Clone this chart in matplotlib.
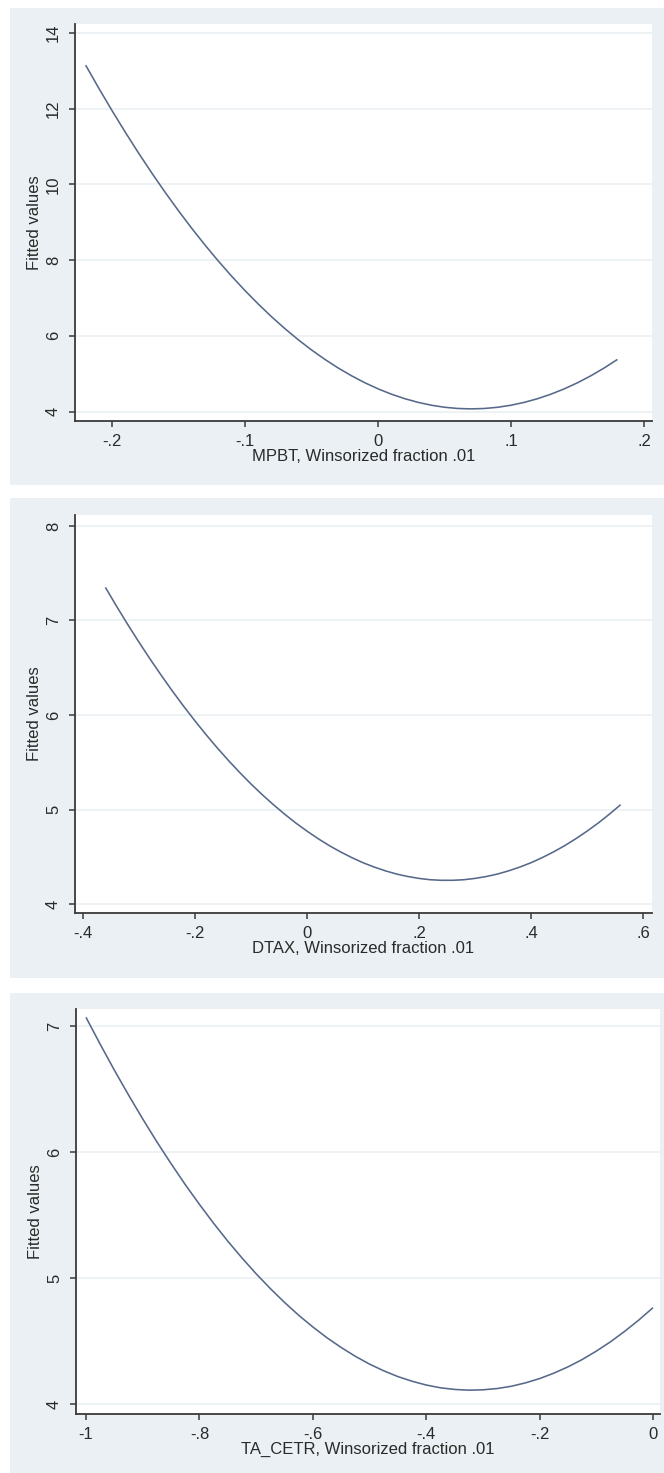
import matplotlib
matplotlib.use("Agg")
import matplotlib.pyplot as plt

plt.rcParams['font.family'] = ['Liberation Sans', 'DejaVu Sans']

# ---------------- data ----------------
mpbt_x = [-0.22, -0.21, -0.20, -0.19, -0.18, -0.17, -0.16, -0.15, -0.14, -0.13, -0.12,
          -0.11, -0.10, -0.09, -0.08, -0.07, -0.06, -0.05, -0.04, -0.03, -0.02, -0.01,
          0.00, 0.01, 0.02, 0.03, 0.04, 0.05, 0.06, 0.07, 0.08, 0.09, 0.10, 0.11,
          0.12, 0.13, 0.14, 0.15, 0.16, 0.17, 0.18]
mpbt_y = [13.153, 12.537, 11.943, 11.371, 10.820, 10.291, 9.783, 9.297, 8.833, 8.390, 7.969,
          7.569, 7.191, 6.835, 6.500, 6.187, 5.895, 5.625, 5.377, 5.150, 4.945, 4.761,
          4.599, 4.459, 4.340, 4.243, 4.167, 4.113, 4.081, 4.070, 4.081, 4.113, 4.167, 4.243,
          4.340, 4.459, 4.599, 4.761, 4.945, 5.150, 5.377]

dtax_x = [-0.36, -0.34, -0.32, -0.30, -0.28, -0.26, -0.24, -0.22, -0.20, -0.18, -0.16,
          -0.14, -0.12, -0.10, -0.08, -0.06, -0.04, -0.02, 0.00, 0.02, 0.04, 0.06,
          0.08, 0.10, 0.12, 0.14, 0.16, 0.18, 0.20, 0.22, 0.24, 0.26, 0.28, 0.30,
          0.32, 0.34, 0.36, 0.38, 0.40, 0.42, 0.44, 0.46, 0.48, 0.50, 0.52, 0.54, 0.56]
dtax_y = [7.350, 7.150, 6.956, 6.770, 6.590, 6.417, 6.250, 6.090, 5.937, 5.790, 5.650,
          5.517, 5.390, 5.270, 5.157, 5.051, 4.951, 4.857, 4.771, 4.691, 4.617, 4.551,
          4.491, 4.437, 4.391, 4.351, 4.317, 4.291, 4.271, 4.257, 4.251, 4.251, 4.257, 4.271,
          4.291, 4.317, 4.351, 4.391, 4.437, 4.491, 4.551, 4.617, 4.691, 4.771, 4.857, 4.951,
          5.051]

cetr_x = [-1.000, -0.975, -0.950, -0.925, -0.900, -0.875, -0.850, -0.825, -0.800, -0.775,
          -0.750, -0.725, -0.700, -0.675, -0.650, -0.625, -0.600, -0.575, -0.550, -0.525,
          -0.500, -0.475, -0.450, -0.425, -0.400, -0.375, -0.350, -0.325, -0.300, -0.275,
          -0.250, -0.225, -0.200, -0.175, -0.150, -0.125, -0.100, -0.075, -0.050, -0.025,
          0.000]
cetr_y = [7.069, 6.856, 6.650, 6.453, 6.263, 6.081, 5.908, 5.742, 5.585, 5.435,
          5.293, 5.160, 5.034, 4.917, 4.807, 4.705, 4.612, 4.526, 4.449, 4.379,
          4.317, 4.264, 4.218, 4.181, 4.151, 4.129, 4.116, 4.110, 4.113, 4.123,
          4.141, 4.168, 4.202, 4.245, 4.295, 4.353, 4.420, 4.494, 4.577, 4.667,
          4.765]

x_titles = ["MPBT, Winsorized fraction .01",
            "DTAX, Winsorized fraction .01",
            "TA_CETR, Winsorized fraction .01"]
y_title = "Fitted values"

p1_xticks = [-0.2, -0.1, 0.0, 0.1, 0.2]
p1_xticklabels = ["-.2", "-.1", "0", ".1", ".2"]
p1_yticks = [4, 6, 8, 10, 12, 14]

p2_xticks = [-0.4, -0.2, 0.0, 0.2, 0.4, 0.6]
p2_xticklabels = ["-.4", "-.2", "0", ".2", ".4", ".6"]
p2_yticks = [4, 5, 6, 7, 8]

p3_xticks = [-1.0, -0.8, -0.6, -0.4, -0.2, 0.0]
p3_xticklabels = ["-1", "-.8", "-.6", "-.4", "-.2", "0"]
p3_yticks = [4, 5, 6, 7]

# ---------------- layout ----------------
W, H = 664, 1473
DPI = 100
fig = plt.figure(figsize=(W / DPI, H / DPI), dpi=DPI)
fig.patch.set_facecolor("white")

BG = "#EAF0F3"
LINE = "#56698a"
AX = "#3a3a3a"
TXT = "#2a2a2a"

def px_rect(x0, y0, x1, y1):
    return [x0 / W, 1 - y1 / H, (x1 - x0) / W, (y1 - y0) / H]

panels = [
    dict(bg=(10, 8, 664, 485), ax=(75, 24, 652, 421),
         xlim=(-0.228, 0.206), ylim=(3.75, 14.24),
         x=mpbt_x, y=mpbt_y, xt=p1_xticks, xtl=p1_xticklabels, yt=p1_yticks),
    dict(bg=(10, 498, 664, 978), ax=(75, 515, 652, 913),
         xlim=(-0.4143, 0.616), ylim=(3.905, 8.116),
         x=dtax_x, y=dtax_y, xt=p2_xticks, xtl=p2_xticklabels, yt=p2_yticks),
    dict(bg=(10, 993, 664, 1473), ax=(76, 1009, 660, 1414),
         xlim=(-1.0176, 0.0123), ylim=(3.921, 7.135),
         x=cetr_x, y=cetr_y, xt=p3_xticks, xtl=p3_xticklabels, yt=p3_yticks),
]

FS = 12

for i, p in enumerate(panels):
    bgax = fig.add_axes(px_rect(*p["bg"]), zorder=0)
    bgax.set_facecolor(BG)
    bgax.set_xticks([])
    bgax.set_yticks([])
    for s in bgax.spines.values():
        s.set_visible(False)

    ax = fig.add_axes(px_rect(*p["ax"]), zorder=2)
    ax.set_facecolor("white")
    ax.set_xlim(*p["xlim"])
    ax.set_ylim(*p["ylim"])
    for yv in p["yt"]:
        ax.axhline(yv, color=BG, lw=1.2, zorder=1)
    ax.plot(p["x"], p["y"], color=LINE, lw=1.15, zorder=3,
            solid_capstyle="butt", solid_joinstyle="round")
    for s in ["top", "right"]:
        ax.spines[s].set_visible(False)
    for s in ["left", "bottom"]:
        ax.spines[s].set_color(AX)
        ax.spines[s].set_linewidth(1.3)
    ax.set_xticks(p["xt"])
    ax.set_xticklabels(p["xtl"])
    ax.set_yticks(p["yt"])
    ax.set_yticklabels([str(v) for v in p["yt"]], rotation=90, va="center", ha="center")
    ax.tick_params(axis="both", direction="out", length=4.5, width=1.1, color=AX,
                   labelsize=FS, labelcolor=TXT)
    ax.tick_params(axis="x", pad=5)
    ax.tick_params(axis="y", pad=11)
    ax.set_xlabel(x_titles[i], fontsize=FS, color=TXT, labelpad=0)
    ax.set_ylabel(y_title, fontsize=FS, color=TXT, labelpad=3)

fig.savefig("out.png", dpi=DPI, facecolor=fig.get_facecolor())
